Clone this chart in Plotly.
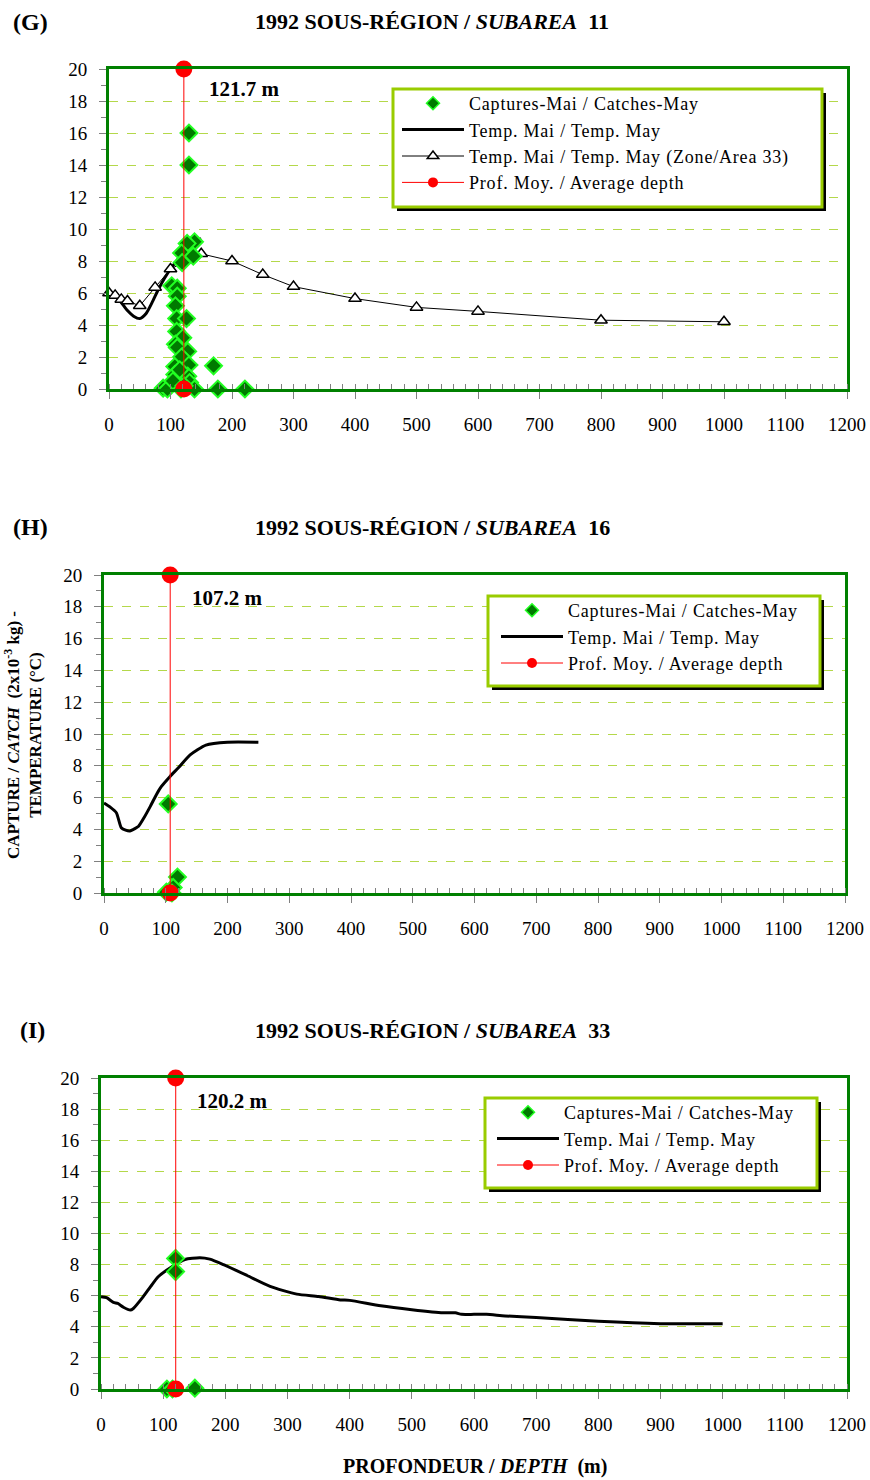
import plotly.graph_objects as go

W, H = 870, 1480
def px(x):
    return x / W
def py(y):
    return 1 - y / H

SERIF = "Liberation Serif, Times New Roman, serif"

# ---------------- DATA ----------------
# Panel G : 1992 sub-area 11
g_catch_depth = [130, 130, 139, 127, 118, 137, 119, 102, 111, 111, 108, 110, 126, 110, 120,
                 108, 111, 128, 118, 130, 107, 170, 107, 128, 131, 88, 95, 117, 139, 177,
                 221, 104, 115, 122]
g_catch_value = [16.0, 14.0, 9.2, 9.1, 8.5, 8.3, 7.9, 6.45, 6.3, 5.8, 5.2, 4.4, 4.4, 3.6, 3.2,
                 2.8, 2.6, 2.35, 2.0, 1.5, 1.4, 1.45, 0.9, 0.8, 0.4, 0.05, 0.0, 0.0, 0.0, 0.0,
                 0.0, 0.5, 1.2, 0.2]
g_temp_depth = [0, 10, 20, 30, 40, 50, 60, 70, 80, 90, 100, 110, 120, 130, 140, 150]
g_temp_value = [6.0, 5.8, 5.4, 4.9, 4.55, 4.4, 4.7, 5.4, 6.2, 6.9, 7.5, 8.0, 8.5, 8.9, 9.2, 9.4]
g_a33_depth = [0, 10, 20, 30, 50, 75, 100, 150, 200, 250, 300, 400, 500, 600, 800, 1000]
g_a33_value = [6.0, 5.85, 5.6, 5.5, 5.2, 6.35, 7.5, 8.45, 8.0, 7.15, 6.4, 5.65, 5.1, 4.85, 4.3, 4.2]
g_avg_depth = 121.7

# Panel H : 1992 sub-area 16
h_catch_depth = [104, 119, 112, 101, 110]
h_catch_value = [5.6, 1.0, 0.35, 0.05, 0.0]
h_temp_depth = [0, 10, 20, 28, 35, 42, 50, 56, 65, 75, 85, 93, 107, 120, 140, 165, 200, 250]
h_temp_value = [5.66, 5.4, 5.05, 4.1, 3.95, 3.9, 4.05, 4.2, 4.75, 5.45, 6.2, 6.7, 7.33, 7.86,
                8.7, 9.3, 9.48, 9.48]
h_avg_depth = 107.2

# Panel I : 1992 sub-area 33
i_catch_depth = [120, 120, 151, 106, 115]
i_catch_value = [8.4, 7.55, 0.05, 0.0, 0.0]
i_temp_depth = [0, 9, 20, 27, 36, 47, 52, 68, 80, 92, 114, 135, 159, 175, 197, 235, 272, 315,
                350, 385, 400, 450, 500, 550, 570, 580, 600, 620, 650, 700, 800, 900, 1000]
i_temp_value = [5.94, 5.87, 5.57, 5.5, 5.26, 5.08, 5.18, 5.94, 6.6, 7.22, 7.86, 8.33, 8.44,
                8.35, 8.0, 7.3, 6.6, 6.1, 5.95, 5.73, 5.7, 5.35, 5.1, 4.9, 4.9, 4.8, 4.8, 4.8,
                4.7, 4.6, 4.35, 4.2, 4.2]
i_avg_depth = 120.2

x_ticks = list(range(0, 1201, 100))
y_ticks = list(range(0, 21, 2))

LBL_CATCH = "Captures-Mai / Catches-May"
LBL_TEMP = "Temp. Mai / Temp. May"
LBL_A33 = "Temp. Mai / Temp. May (Zone/Area 33)"
LBL_AVG = "Prof. Moy. / Average depth"

def spaced(t):
    return '<span style="letter-spacing:0.8px">' + t + '</span>'

# ---------------- PANELS ----------------
panels = [
    dict(sfx="", leg="legend", letter="(G)", area="11", ytop=69, ybot=389, xl=109, xr=847,
         catch=(g_catch_depth, g_catch_value), temp=(g_temp_depth, g_temp_value),
         a33=(g_a33_depth, g_a33_value), avg=g_avg_depth, title_y=22, letter_x=30,
         legbox=(393, 89, 822, 207), txt_x=471, avg_lbl=(207, 89)),
    dict(sfx="2", leg="legend2", letter="(H)", area="16", ytop=575, ybot=893, xl=104, xr=845,
         catch=(h_catch_depth, h_catch_value), temp=(h_temp_depth, h_temp_value),
         a33=None, avg=h_avg_depth, title_y=527, letter_x=30,
         legbox=(488, 596, 820, 686), txt_x=570, avg_lbl=(190, 598)),
    dict(sfx="3", leg="legend3", letter="(I)", area="33", ytop=1078, ybot=1389, xl=101, xr=847,
         catch=(i_catch_depth, i_catch_value), temp=(i_temp_depth, i_temp_value),
         a33=None, avg=i_avg_depth, title_y=1030, letter_x=32,
         legbox=(485, 1098, 817, 1188), txt_x=566, avg_lbl=(195, 1101)),
]

ITEMW = 62

fig = go.Figure()
shapes = []
annotations = []
layout = {}

for p in panels:
    xa = "x" + p["sfx"]
    ya = "y" + p["sfx"]
    # ---- data traces ----
    fig.add_trace(go.Scatter(
        x=p["temp"][0], y=p["temp"][1], xaxis=xa, yaxis=ya, mode="lines",
        showlegend=False, line=dict(color="black", width=3, shape="spline", smoothing=0.6)))
    if p["a33"] is not None:
        fig.add_trace(go.Scatter(
            x=p["a33"][0], y=p["a33"][1], xaxis=xa, yaxis=ya, mode="lines+markers",
            showlegend=False, cliponaxis=False,
            line=dict(color="black", width=1),
            marker=dict(symbol="triangle-up", size=11, color="white",
                        line=dict(color="black", width=1.5))))
    fig.add_trace(go.Scatter(
        x=p["catch"][0], y=p["catch"][1], xaxis=xa, yaxis=ya, mode="markers",
        showlegend=False, cliponaxis=False,
        marker=dict(symbol="diamond", size=13, color="#007A00",
                    line=dict(color="#22FF22", width=2))))
    fig.add_trace(go.Scatter(
        x=[p["avg"], p["avg"]], y=[0, 20], xaxis=xa, yaxis=ya, mode="lines+markers",
        showlegend=False, cliponaxis=False,
        line=dict(color="#FF0000", width=1),
        marker=dict(symbol="circle", size=17, color="#FF0000")))

    # ---- legend entries ----
    fig.add_trace(go.Scatter(
        x=[None], y=[None], xaxis=xa, yaxis=ya, mode="markers", name=spaced(LBL_CATCH),
        legend=p["leg"],
        marker=dict(symbol="diamond", size=10, color="#007A00",
                    line=dict(color="#22FF22", width=1.5))))
    fig.add_trace(go.Scatter(
        x=[None], y=[None], xaxis=xa, yaxis=ya, mode="lines", name=spaced(LBL_TEMP),
        legend=p["leg"], line=dict(color="black", width=3)))
    if p["a33"] is not None:
        fig.add_trace(go.Scatter(
            x=[None], y=[None], xaxis=xa, yaxis=ya, mode="lines+markers", name=spaced(LBL_A33),
            legend=p["leg"], line=dict(color="black", width=1),
            marker=dict(symbol="triangle-up", size=10, color="white",
                        line=dict(color="black", width=1.5))))
    fig.add_trace(go.Scatter(
        x=[None], y=[None], xaxis=xa, yaxis=ya, mode="lines+markers", name=spaced(LBL_AVG),
        legend=p["leg"], line=dict(color="#FF0000", width=1),
        marker=dict(symbol="circle", size=10, color="#FF0000")))

    xdom = [px(p["xl"]), px(p["xr"])]
    ydom = [py(p["ybot"]), py(p["ytop"])]
    common_line = dict(showline=True, linecolor="#008000", linewidth=3, mirror=True,
                       zeroline=False, automargin=False)
    layout["xaxis" + p["sfx"]] = dict(
        domain=xdom, anchor=ya, range=[0, 1200], tickvals=x_ticks,
        ticks="outside", ticklen=7, tickcolor="#808080", tickwidth=1,
        showgrid=False, ticklabelstandoff=9,
        tickfont=dict(family=SERIF, size=19, color="black"),
        minor=dict(dtick=20, ticks="inside", ticklen=5, tickcolor="#808080", showgrid=False),
        **common_line)
    layout["yaxis" + p["sfx"]] = dict(
        domain=ydom, anchor=xa, range=[0, 20], tickvals=y_ticks,
        ticks="outside", ticklen=7, tickcolor="#808080", tickwidth=1,
        showgrid=True, gridcolor="#B4D84A", griddash="dash", gridwidth=1,
        ticklabelstandoff=8,
        tickfont=dict(family=SERIF, size=19, color="black"),
        minor=dict(dtick=1, ticks="outside", ticklen=5, tickcolor="#808080", showgrid=False),
        **common_line)

    # ---- legend box with shadow ----
    bx0, by0, bx1, by1 = p["legbox"]
    shapes.append(dict(type="rect", xref="paper", yref="paper", layer="above",
                       x0=px(bx0 + 4), x1=px(bx1 + 4), y0=py(by1 + 4), y1=py(by0 + 4),
                       fillcolor="black", line=dict(width=0)))
    shapes.append(dict(type="rect", xref="paper", yref="paper", layer="above",
                       x0=px(bx0), x1=px(bx1), y0=py(by1), y1=py(by0),
                       fillcolor="white", line=dict(color="#99CC00", width=3)))
    layout[p["leg"]] = dict(
        x=px(p["txt_x"] - ITEMW - 12), y=py(by0 - 4), xanchor="left", yanchor="top",
        bgcolor="rgba(0,0,0,0)", borderwidth=0,
        font=dict(family=SERIF, size=18, color="black"),
        itemsizing="trace", itemwidth=ITEMW, traceorder="normal",
        tracegroupgap=0)

    # ---- titles ----
    annotations.append(dict(xref="paper", yref="paper", x=px(p["letter_x"]), y=py(p["title_y"]),
                            text="<b>" + p["letter"] + "</b>", showarrow=False,
                            xanchor="center", yanchor="middle",
                            font=dict(family=SERIF, size=24, color="black")))
    annotations.append(dict(xref="paper", yref="paper", x=px(432), y=py(p["title_y"]),
                            text="<b>1992 SOUS-RÉGION / <i>SUBAREA</i>  " + p["area"] + "</b>",
                            showarrow=False, xanchor="center", yanchor="middle",
                            font=dict(family=SERIF, size=22, color="black")))
    ax, ay = p["avg_lbl"]
    annotations.append(dict(xref="paper", yref="paper", x=px(ax), y=py(ay),
                            text="<b>%.1f m</b>" % p["avg"], showarrow=False,
                            xanchor="left", yanchor="middle",
                            font=dict(family=SERIF, size=21, color="black")))

annotations.append(dict(xref="paper", yref="paper", x=px(23), y=py(735),
                        text="<b>CAPTURE / <i>CATCH</i>  (2x10<sup>-3</sup> kg) -</b><br><b>TEMPERATURE (°C)</b>",
                        showarrow=False, textangle=-90, xanchor="center", yanchor="middle",
                        font=dict(family=SERIF, size=17, color="black")))
annotations.append(dict(xref="paper", yref="paper", x=px(475), y=py(1466),
                        text="<b>PROFONDEUR / <i>DEPTH</i>  (m)</b>",
                        showarrow=False, xanchor="center", yanchor="middle",
                        font=dict(family=SERIF, size=20, color="black")))

fig.update_layout(
    width=W, height=H, margin=dict(l=0, r=0, t=0, b=0, autoexpand=False),
    paper_bgcolor="white", plot_bgcolor="white",
    showlegend=True, shapes=shapes, annotations=annotations,
    font=dict(family=SERIF, color="black"),
    **layout)

fig.write_html("out.html", config={"displayModeBar": False},
               post_script="document.body.style.margin='0';document.body.style.overflow='hidden';")
